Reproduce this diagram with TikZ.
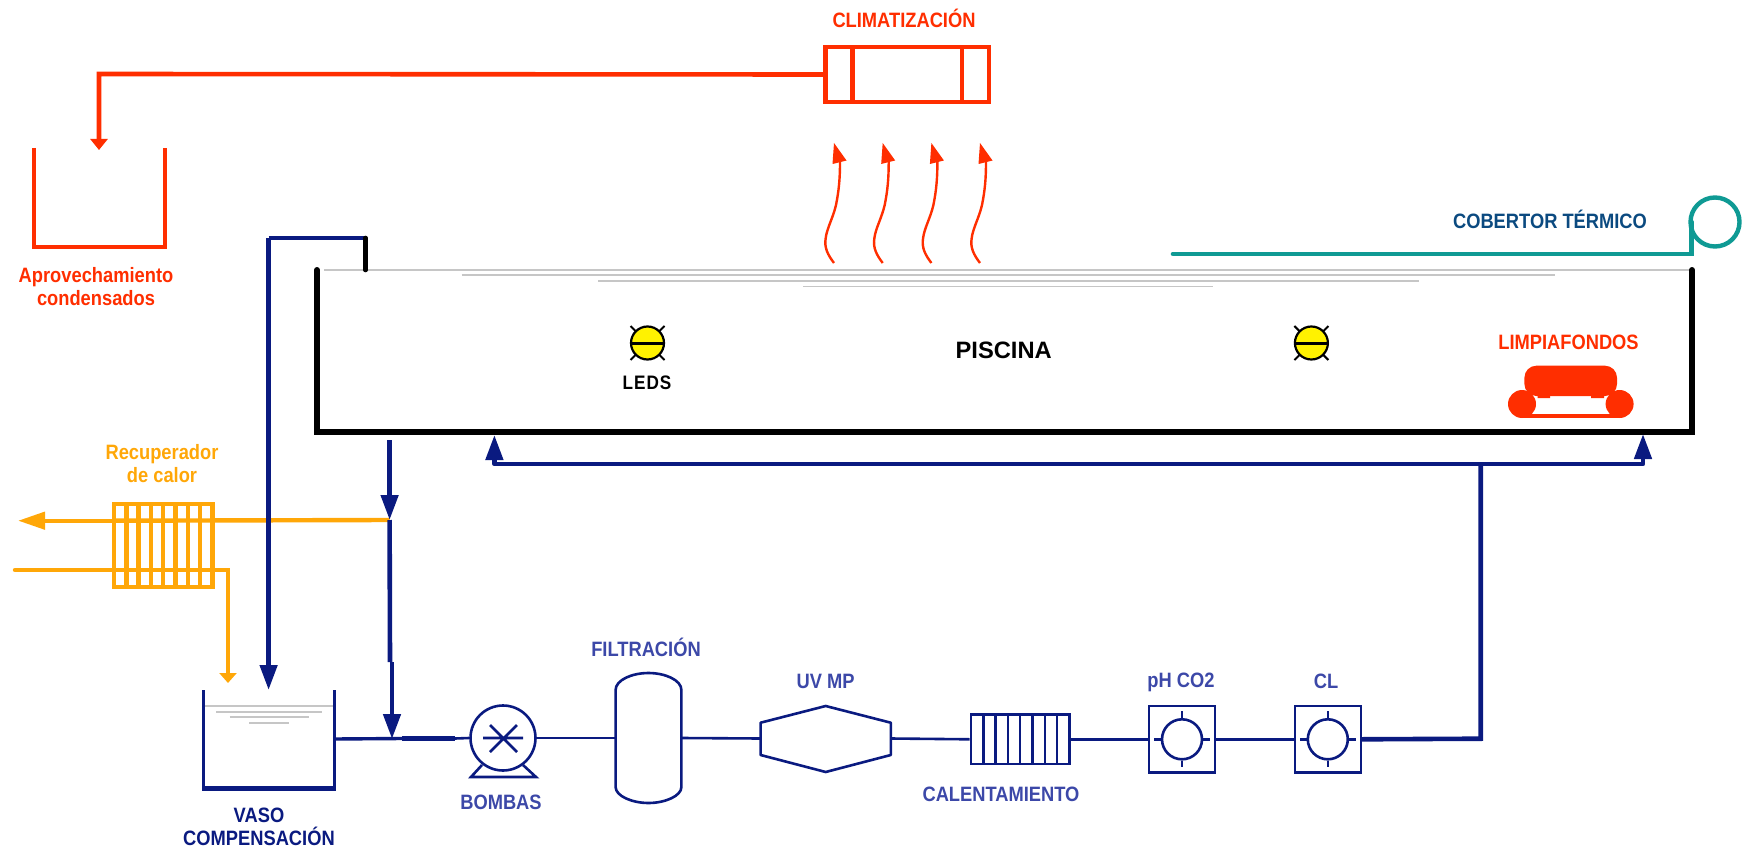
\documentclass[tikz,border=0pt]{standalone}
\usepackage{fontspec}
\setmainfont{Liberation Sans}[FakeStretch=0.88]
\newfontfamily\poolfont{Liberation Sans}
\usetikzlibrary{arrows.meta,calc}
\definecolor{navy}{HTML}{0A1A80}
\definecolor{labelblue}{HTML}{3C48A8}
\definecolor{redc}{HTML}{FF2E00}
\definecolor{orangec}{HTML}{FFA708}
\definecolor{tealc}{HTML}{0F9A94}
\definecolor{coverblue}{HTML}{0B4A80}
\definecolor{grayc}{HTML}{C6C6C6}
\tikzset{
  lab/.style={inner sep=0pt,align=center,font=\bfseries\fontsize{20.8}{23.5}\selectfont},
  boxn/.style={draw,rectangle,inner sep=0pt,line width=#1},
  boxn/.default=2.6pt,
  redline/.style={draw=redc,line width=4.6pt,line join=miter},
  navyhead/.style={-{Triangle[width=17pt,length=25pt]}},
  navyline/.style={draw=navy,line width=4.6pt},
  thinpipe/.style={draw=navy,line width=2.6pt},
  orangeline/.style={draw=orangec,line width=4.4pt},
  waterline/.style={draw=grayc},
  blackline/.style={draw=black,line width=6pt,line cap=round,line join=miter},
}
\begin{document}
\begin{tikzpicture}[x=1pt,y=-1pt]
\useasboundingbox (0,0) rectangle (1746,848);
% ---- named points
\coordinate (condTip) at (99,150);
\coordinate (condBend) at (99,74);
\coordinate (ovTop) at (268.6,238);
\coordinate (ovRight) at (365.5,238);
\coordinate (ovPool) at (365.5,270);
\coordinate (ovTip) at (268.6,690);
\coordinate (drainTop) at (389.6,440);
\coordinate (drainTip) at (389.6,520);
\coordinate (drainMid) at (390,662);
\coordinate (drainMidB) at (392,662);
\coordinate (drainTipB) at (392,739);
\coordinate (recOutEnd) at (18,520.7);
\coordinate (recInStart) at (15,570);
\coordinate (recBend) at (228,570);
\coordinate (recTip) at (228,683);
\coordinate (vesselOut) at (334.5,739);
\coordinate (thickA) at (402,738.5);
\coordinate (thickB) at (455,738.5);
\coordinate (retBend) at (1480.7,738.7);
\coordinate (retJoin) at (1480.7,464);
\coordinate (retL) at (494.4,464);
\coordinate (retLTip) at (494.4,435);
\coordinate (retR) at (1643,464);
\coordinate (retRTip) at (1643,434);
\coordinate (coverStart) at (1173,254);
\coordinate (coverBend) at (1691.7,254);
\coordinate (coverUp) at (1691.7,222);
% ---- climatización
\node[boxn=4.6pt,draw=redc,minimum width=163.3pt,minimum height=55pt] (clim) at (907.4,74.5) {};
\draw[redc,line width=4.6pt] (852.7,47) -- (852.7,102) (962,47) -- (962,102);
\node[lab,text=redc] (climT) at (904,18) {CLIMATIZACIÓN};
\draw[redline,-{Triangle[width=17pt,length=11pt]}] (clim.west) -- (condBend) -- (condTip);
% ---- condensados
\draw[redc,line width=3.8pt] (33.7,148) -- (33.7,247) -- (165,247) -- (165,148);
\node[lab,text=redc] (condT) at (96,286.5) {Aprovechamiento\\condensados};
% ---- wavy arrows
\foreach \dx in {0,48.7,97.4,146}{
  \begin{scope}[xshift=\dx pt]
    \draw[redc,line width=2.4pt] (834,263) .. controls (828,255) and (824,248) .. (825.7,238)
       .. controls (827,228) and (833,218) .. (836,205) .. controls (839,190) and (840,178) .. (840,162);
    \fill[redc] (834,143) -- (846.5,160.5) -- (832.5,164) -- cycle;
  \end{scope}
}
% ---- water surface
\draw[waterline,line width=1.6pt] (324,269.8) -- (1690,269.8);
\draw[waterline,line width=2pt] (461.5,275.3) -- (1555,275.3);
\draw[waterline,line width=1.6pt] (598,280.7) -- (1418.5,280.7);
\draw[waterline,line width=1.6pt] (803,286.3) -- (1213,286.3);
% ---- pool
\draw[blackline] (317,270) -- (317,431.5) -- (1692,431.5) -- (1692,270);
\node[lab,text=black,font=\poolfont\bfseries\fontsize{23.7}{26}\selectfont] (pool) at (1003.7,350.7) {PISCINA};
% ---- lamps
\foreach \n/\cx in {lampA/647.5,lampB/1311.4}{
  \draw[black,line width=2pt] (\cx-17,326) -- (\cx+17,360) (\cx+17,326) -- (\cx-17,360);
  \node[circle,draw=black,fill=yellow,line width=2.2pt,minimum size=33pt,inner sep=0pt] (\n) at (\cx,343) {};
  \draw[black,line width=3pt] (\n.west) -- (\n.east);
}
\node[lab,text=black,font=\bfseries\fontsize{19.5}{23}\selectfont] (leds) at (647,383) {L\kern1pt E\kern1pt D\kern1pt S};
% ---- limpiafondos
\node[lab,text=redc] (limp) at (1568.5,342.7) {LIMPIAFONDOS};
\fill[redc,rounded corners=12pt] (1524.4,365.7) rectangle (1617,396);
\fill[redc] (1537.6,392) rectangle (1550,398) (1591,392) rectangle (1604,398);
\fill[redc] (1522,404) circle[radius=14] (1619.6,404) circle[radius=14];
\fill[redc] (1522,414) rectangle (1620,418);
% ---- cover
\draw[tealc,line width=4.6pt,line cap=round] (coverStart) -- (coverBend) -- (coverUp);
\node[circle,draw=tealc,line width=4.4pt,minimum size=49pt,inner sep=0pt] (coverRoll) at (1715,222) {};
\node[lab,text=coverblue] (coverT) at (1550,219.7) {COBERTOR TÉRMICO};
% ---- heat recovery
\draw[orangeline] (drainTip) -- (114,520.7);
\draw[orangec,-{Triangle[width=17pt,length=27pt]},line width=4.4pt] (114,520.7) -- (recOutEnd);
\draw[orangec,line width=4.4pt,line cap=round] (recInStart) -- (212,570);
\draw[orangec,line width=4.4pt] (212,570) -- (recBend) -- (228,600);
\draw[orangec,line width=3.4pt,-{Triangle[width=17pt,length=10pt]}] (228,600) -- (recTip);
\node[boxn=4.4pt,draw=orangec,minimum width=98.4pt,minimum height=83pt] (rec) at (163.2,545.5) {};
\foreach \i in {1,...,7}{\draw[orangec,line width=4.4pt] (114+\i*12.3,504) -- (114+\i*12.3,587);}
\node[lab,text=orangec] (recT) at (162,463.5) {Recuperador\\de calor};
% ---- overflow and drain
\draw[navyline,navyhead,line join=round] (ovTop) -- (ovTip);
\draw[navyline] (ovTop) -- (ovRight);
\draw[black,line width=4.6pt,line cap=round] (ovRight) -- (ovPool);
\draw[navyline,navyhead] (drainTop) -- (drainTip);
\draw[navyline] (drainTip) -- (drainMid);
\draw[navyline,navyhead] (drainMidB) -- (drainTipB);
% ---- vessel
\draw[navy,line width=3.6pt] (203.6,690) -- (203.6,788) (334.5,690) -- (334.5,788);
\draw[navy,line width=5pt] (202,788) -- (336,788);
\draw[waterline,line width=1.4pt] (205,706) -- (333,706);
\draw[waterline,line width=2pt] (216,712) -- (321.5,712);
\draw[waterline,line width=2pt] (229.6,717) -- (308.5,717);
\draw[waterline,line width=1.6pt] (249,723) -- (289,723);
\node[lab,text=navy] (vaso) at (259,827) {VASO\\COMPENSACIÓN};
% ---- pump
\node[circle,draw=navy,line width=2.6pt,minimum size=65pt,inner sep=0pt] (pump) at (503,738) {};
\draw[navyline,line width=3.4pt] (vesselOut) -- (thickA);
\draw[navyline,line width=4.6pt] (thickA) -- (thickB);
\draw[thinpipe] (thickB) -- (pump.west);
\draw[navy,line width=2.6pt] (483,738) -- (523,738) (490,725) -- (517,752) (517,725) -- (490,752);
\draw[navy,line width=2.6pt,line join=miter] (482,765) -- (471,777) -- (536,777) -- (523,765);
\node[lab,text=labelblue] (bombas) at (501,802) {BOMBAS};
% ---- filter
\coordinate (filterW) at (615.6,738);
\coordinate (filterE) at (681.4,738);
\draw[navy,line width=2.6pt] (615.6,690) .. controls (615.6,680) and (632,673) .. (648.5,673) .. controls (665,673) and (681.4,680) .. (681.4,690)
   -- (681.4,787) .. controls (681.4,796) and (665,803) .. (648.5,803) .. controls (632,803) and (615.6,796) .. (615.6,787) -- cycle;
\node[lab,text=labelblue] (filT) at (646,647) {FILTRACIÓN};
\draw[thinpipe] (pump.east) -- (filterW);
% ---- UV
\coordinate (uvW) at (760.6,738.5);
\coordinate (uvE) at (890.8,738.5);
\draw[navy,line width=2.6pt,line join=round] (760.6,722.7) -- (825.7,706) -- (890.8,722.7) -- (890.8,755) -- (825.7,772) -- (760.6,755) -- cycle;
\node[lab,text=labelblue] (uvT) at (825.7,681.7) {UV MP};
\draw[thinpipe] (filterE) -- (uvW);
% ---- heater
\node[boxn,draw=navy,minimum width=98.5pt,minimum height=49.3pt] (heat) at (1020.2,739.3) {};
\foreach \i in {1,...,7}{\draw[navy,line width=2.4pt] (971+\i*12.3,714.7) -- (971+\i*12.3,764);}
\node[lab,text=labelblue] (heatT) at (1001,794) {CALENTAMIENTO};
\draw[thinpipe] (uvE) -- (heat.west);
% ---- probes
\foreach \n/\cx in {ph/1182,cl/1327.8}{
  \node[boxn,draw=navy,minimum width=66pt,minimum height=66.7pt] (\n) at (\cx,739.3) {};
  \node[circle,draw=navy,line width=2.6pt,minimum size=40pt,inner sep=0pt] (\n c) at (\cx,739.3) {};
  \draw[navy,line width=2.4pt] (\n c.west) -- ++(-6.7,0) (\n c.east) -- ++(6.7,0) (\n c.north) -- ++(0,-6.7) (\n c.south) -- ++(0,6.7);
}
\node[lab,text=labelblue] (phT) at (1181,682.5) {pH CO2};
\node[lab,text=labelblue] (clT) at (1326,681.7) {CL};
\draw[thinpipe] (heat.east) -- (ph.west);
\draw[thinpipe] (ph.east) -- (cl.west);
% ---- return
\draw[navyline,line join=miter] (cl.east) -- (retBend) -- (retJoin);
\draw[navyline,navyhead,line join=round] (retJoin) -- (retL) -- (retLTip);
\draw[navyline,navyhead,line join=round] (retJoin) -- (retR) -- (retRTip);
\end{tikzpicture}
\end{document}
